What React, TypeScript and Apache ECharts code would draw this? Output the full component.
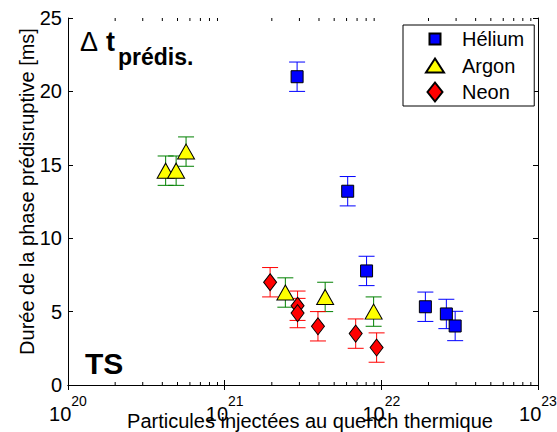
import React, { useEffect, useRef } from 'react';
import * as echarts from 'echarts';

const FONT = '"Liberation Sans", Arial, Helvetica, sans-serif';

// Axis ticks
const xMin = 1e20;
const xMax = 1e23;
const yTicksInterval = 5;
const yMin = 0;
const yMax = 25;
const minorTicks = [
  2e20, 3e20, 4e20, 5e20, 6e20, 7e20, 8e20, 9e20,
  2e21, 3e21, 4e21, 5e21, 6e21, 7e21, 8e21, 9e21,
  2e22, 3e22, 4e22, 5e22, 6e22, 7e22, 8e22, 9e22,
];

// Series data
const heliumX = [2.9e21, 6.1e21, 8.05e21, 1.91e22, 2.6e22, 2.96e22];
const heliumY = [21.0, 13.2, 7.77, 5.33, 4.84, 4.02];
const heliumErr = [1, 1, 1, 1, 1, 1];

const argonX = [4.2e20, 4.9e20, 5.67e20, 2.44e21, 4.38e21, 8.93e21];
const argonY = [14.6, 14.6, 15.9, 6.3, 6.0, 5.0];
const argonErr = [1, 1, 1, 1, 1, 1];

const neonX = [1.95e21, 2.92e21, 2.92e21, 3.94e21, 6.86e21, 9.33e21];
const neonY = [7.0, 5.4, 4.9, 4.0, 3.5, 2.55];
const neonErr = [1, 1, 1, 1, 1, 1];

const seriesNames = ['Hélium', 'Argon', 'Neon'];

function errData(xs: number[], ys: number[], es: number[]) {
  return xs.map((x, i) => [x, ys[i] - es[i], ys[i] + es[i]]);
}

function errSeries(name: string, data: number[][], color: string) {
  return {
    type: 'custom',
    name: name + '_err',
    xAxisIndex: 0,
    yAxisIndex: 0,
    z: 2,
    silent: true,
    encode: { x: 0, y: [1, 2] },
    data,
    renderItem: (params: any, api: any) => {
      const x = api.value(0);
      const p1 = api.coord([x, api.value(1)]);
      const p2 = api.coord([x, api.value(2)]);
      const hw = 8;
      const st = { stroke: color, lineWidth: 1, fill: 'none' };
      return {
        type: 'group',
        children: [
          { type: 'line', shape: { x1: p1[0], y1: p1[1], x2: p2[0], y2: p2[1] }, style: st },
          { type: 'line', shape: { x1: p1[0] - hw, y1: p1[1], x2: p1[0] + hw, y2: p1[1] }, style: st },
          { type: 'line', shape: { x1: p2[0] - hw, y1: p2[1], x2: p2[0] + hw, y2: p2[1] }, style: st },
        ],
      };
    },
  };
}

export default function App() {
  const ref = useRef<HTMLDivElement>(null);
  useEffect(() => {
    if (!ref.current) return;
    const chart = echarts.init(ref.current, undefined, { renderer: 'svg' });
    const axisLabelRich = {
      b: { fontSize: 20, fontFamily: FONT, color: '#000', lineHeight: 30, verticalAlign: 'bottom' },
      s: { fontSize: 14, fontFamily: FONT, color: '#000', lineHeight: 10, verticalAlign: 'top' },
    };
    const option: any = {
      animation: false,
      backgroundColor: '#fff',
      grid: { left: 68, top: 18, width: 470, height: 367, containLabel: false, outerBoundsMode: 'none' },
      xAxis: [
        {
          type: 'log',
          logBase: 10,
          min: xMin,
          max: xMax,
          position: 'bottom',
          axisLine: { show: true, lineStyle: { color: '#000', width: 1 } },
          axisTick: { show: true, inside: true, length: 5, lineStyle: { color: '#000' } },
          minorTick: { show: false },
          splitLine: { show: false },
          axisLabel: {
            margin: 9,
            formatter: (v: number) => `{b|10}{s|${Math.round(Math.log10(v))}}`,
            rich: axisLabelRich,
            showMinLabel: true,
            showMaxLabel: true,
          },
          name: 'Particules injectées au quench thermique',
          nameLocation: 'middle',
          nameGap: 26,
          nameMoveOverlap: false,
          nameTextStyle: { fontSize: 20, fontFamily: FONT, color: '#000', padding: [0, 0, 0, 14] },
        },
        {
          type: 'log',
          logBase: 10,
          min: xMin,
          max: xMax,
          position: 'top',
          axisLine: { show: true, lineStyle: { color: '#000', width: 1 } },
          axisTick: { show: true, inside: true, length: 5, lineStyle: { color: '#000' } },
          axisLabel: { show: false },
          splitLine: { show: false },
        },
      ],
      yAxis: [
        {
          type: 'value',
          min: yMin,
          max: yMax,
          interval: yTicksInterval,
          position: 'left',
          axisLine: { show: true, lineStyle: { color: '#000', width: 1 } },
          axisTick: { show: true, inside: true, length: 5, lineStyle: { color: '#000' } },
          splitLine: { show: false },
          axisLabel: { fontSize: 20, fontFamily: FONT, color: '#000', margin: 6 },
          name: 'Durée de la phase prédisruptive [ms]',
          nameLocation: 'middle',
          nameGap: 31,
          nameMoveOverlap: false,
          nameTextStyle: { fontSize: 20, fontFamily: FONT, color: '#000', padding: [0, 0, 0, 20] },
        },
        {
          type: 'value',
          min: yMin,
          max: yMax,
          interval: yTicksInterval,
          position: 'right',
          axisLine: { show: true, lineStyle: { color: '#000', width: 1 } },
          axisTick: { show: true, inside: true, length: 5, lineStyle: { color: '#000' } },
          splitLine: { show: false },
          axisLabel: { show: false },
        },
      ],
      legend: {
        data: [
          { name: seriesNames[0], icon: 'path://M0,0M20,20M4.5,4.5L15.5,4.5L15.5,15.5L4.5,15.5Z' },
          { name: seriesNames[1], icon: 'path://M0,0M20,20M10,3L19,17L1,17Z' },
          { name: seriesNames[2], icon: 'path://M0,0M20,20M10,0.5L17.5,10L10,19.5L2.5,10Z' },
        ],
        orient: 'vertical',
        left: 403,
        top: 25,
        backgroundColor: '#fff',
        borderColor: '#000',
        borderWidth: 1,
        borderRadius: 0,
        padding: [3, 10, 3, 21],
        itemGap: 4.5,
        itemWidth: 20,
        itemHeight: 20,
        symbolKeepAspect: true,
        textStyle: { fontSize: 20, fontFamily: FONT, color: '#000', lineHeight: 20, padding: [0, 0, 0, 12] },
        selectedMode: false,
      },
      graphic: [
        {
          type: 'text',
          x: 80,
          y: 42,
          style: { text: 'Δ', fontSize: 27, fontWeight: 'normal', fontFamily: FONT, fill: '#000', verticalAlign: 'middle', align: 'left' },
        },
        {
          type: 'text',
          x: 106,
          y: 42,
          style: { text: 't', fontSize: 27, fontWeight: 'bold', fontFamily: FONT, fill: '#000', verticalAlign: 'middle', align: 'left' },
        },
        {
          type: 'text',
          x: 118,
          y: 57,
          style: { text: 'prédis.', fontSize: 23, fontWeight: 'bold', fontFamily: FONT, fill: '#000', verticalAlign: 'middle', align: 'left' },
        },
        {
          type: 'text',
          x: 85,
          y: 363,
          style: { text: 'TS', fontSize: 30, fontWeight: 'bold', fontFamily: FONT, fill: '#000', verticalAlign: 'middle', align: 'left' },
        },
      ],
      series: [
        {
          type: 'custom',
          name: 'minorTicks',
          xAxisIndex: 0,
          yAxisIndex: 0,
          silent: true,
          z: 1,
          data: minorTicks.map((v) => [v, yMin]),
          renderItem: (params: any, api: any) => {
            const x = api.value(0);
            const pb = api.coord([x, yMin]);
            const pt = api.coord([x, yMax]);
            const st = { stroke: '#000', lineWidth: 1 };
            return {
              type: 'group',
              children: [
                { type: 'line', shape: { x1: pb[0], y1: pb[1], x2: pb[0], y2: pb[1] - 3 }, style: st },
                { type: 'line', shape: { x1: pt[0], y1: pt[1], x2: pt[0], y2: pt[1] + 3 }, style: st },
              ],
            };
          },
        },
        errSeries('Hélium', errData(heliumX, heliumY, heliumErr), '#0000ff'),
        errSeries('Argon', errData(argonX, argonY, argonErr), '#008000'),
        errSeries('Neon', errData(neonX, neonY, neonErr), '#ff0000'),
        {
          type: 'scatter',
          name: 'Hélium',
          z: 3,
          symbol: 'rect',
          symbolSize: [12, 12],
          itemStyle: { color: '#0000ff', borderColor: '#000', borderWidth: 1, opacity: 1 },
          data: heliumX.map((x, i) => [x, heliumY[i]]),
        },
        {
          type: 'scatter',
          name: 'Argon',
          z: 3,
          symbol: 'triangle',
          symbolSize: [17, 15],
          itemStyle: { color: '#ffff00', borderColor: '#000', borderWidth: 1, opacity: 1 },
          data: argonX.map((x, i) => [x, argonY[i]]),
        },
        {
          type: 'scatter',
          name: 'Neon',
          z: 3,
          symbol: 'diamond',
          symbolSize: [13, 17],
          itemStyle: { color: '#ff0000', borderColor: '#000', borderWidth: 1, opacity: 1 },
          data: neonX.map((x, i) => [x, neonY[i]]),
        },
      ],
    };
    chart.setOption(option);
    return () => chart.dispose();
  }, []);
  return (
    <div
      ref={ref}
      style={{ position: 'fixed', left: 0, top: 0, width: 557, height: 432, background: '#fff' }}
    />
  );
}
